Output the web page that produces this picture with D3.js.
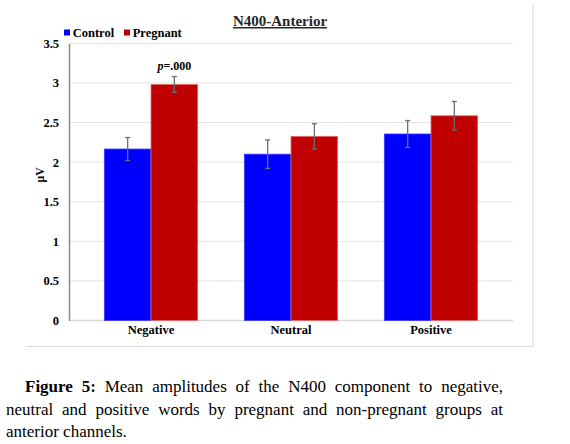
<!DOCTYPE html>
<html>
<head>
<meta charset="utf-8">
<script src="https://cdn.jsdelivr.net/npm/d3@7"></script>
<style>
  html, body { margin: 0; padding: 0; background: #fff; }
  svg { display: block; }
  svg text { font-family: "Liberation Serif", "Times New Roman", Times, serif; }
</style>
</head>
<body>
<svg id="chart" width="570" height="444"></svg>
<script>
// Data
const categories = ['Negative', 'Neutral', 'Positive'];
const groups = ['Control', 'Pregnant'];
const controlMeans = [2.165, 2.10, 2.355];
const pregnantMeans = [2.98, 2.325, 2.585];
const controlErrors = [0.145, 0.18, 0.17];
const pregnantErrors = [0.10, 0.16, 0.18];
const yTicks = [0, 0.5, 1, 1.5, 2, 2.5, 3, 3.5];
const yTickLabels = ['0', '0.5', '1', '1.5', '2', '2.5', '3', '3.5'];
const groupColors = ['#0000ff', '#c00000'];

const captionLines = [
    [{ t: 'Figure 5:', b: true }, { t: 'Mean amplitudes of the N400 component to negative,' }],
    [{ t: 'neutral and positive words by pregnant and non-pregnant groups at' }],
    [{ t: 'anterior channels.' }]
];

const serif = '"Liberation Serif", "Times New Roman", Times, serif';
const svg = d3.select('#chart');

// Plot area
const plot = { left: 69, right: 513, top: 43.3, bottom: 320.5 };

const y = d3.scaleLinear().domain([0, 3.5]).range([plot.bottom, plot.top]);
const x0 = d3.scaleBand().domain(categories).range([81, 501]).paddingInner(1 / 3).paddingOuter(1 / 6);
const x1 = d3.scaleBand().domain(groups).range([0, x0.bandwidth()]);

// Chart frame (right and bottom edges only)
svg.append('path')
    .attr('d', 'M533,5 V346.5 H26')
    .attr('fill', 'none')
    .attr('stroke', '#d9d9d9')
    .attr('stroke-width', 1);

// Gridlines
svg.append('g')
    .selectAll('line')
    .data(yTicks)
    .enter().append('line')
    .attr('x1', plot.left)
    .attr('x2', plot.right)
    .attr('y1', d => y(d))
    .attr('y2', d => y(d))
    .attr('stroke', d => d === 0 ? '#d9d9d9' : '#e3e3e3')
    .attr('stroke-width', d => d === 0 ? 1.5 : 1);

// Y axis
const yAxis = svg.append('g')
    .attr('transform', `translate(${plot.left},0)`)
    .call(d3.axisLeft(y).tickValues(yTicks).tickSize(0).tickPadding(10)
        .tickFormat((d, i) => yTickLabels[i]));
yAxis.attr('font-family', serif);
yAxis.select('.domain').attr('stroke', '#8c8c8c').attr('stroke-width', 1.5);
yAxis.selectAll('text')
    .attr('font-size', 12.5)
    .attr('font-weight', 'bold')
    .attr('fill', '#000');

svg.append('text')
    .attr('transform', 'translate(44,175) rotate(-90)')
    .attr('text-anchor', 'middle')
    .attr('font-family', serif)
    .attr('font-size', 11.5)
    .attr('font-weight', 'bold')
    .text('µV');

// X axis labels
const xAxis = svg.append('g')
    .attr('transform', `translate(0,${plot.bottom})`)
    .call(d3.axisBottom(x0).tickSize(0).tickPadding(5));
xAxis.attr('font-family', serif);
xAxis.select('.domain').remove();
xAxis.selectAll('text')
    .attr('font-size', 12.5)
    .attr('font-weight', 'bold')
    .attr('fill', '#000');

// Bars
const rows = categories.map((c, i) => ({
    category: c,
    values: [
        { group: 'Control', mean: controlMeans[i], err: controlErrors[i] },
        { group: 'Pregnant', mean: pregnantMeans[i], err: pregnantErrors[i] }
    ]
}));

const catG = svg.append('g')
    .selectAll('g')
    .data(rows)
    .enter().append('g')
    .attr('transform', d => `translate(${x0(d.category)},0)`);

catG.selectAll('rect')
    .data(d => d.values)
    .enter().append('rect')
    .attr('x', d => x1(d.group))
    .attr('y', d => y(d.mean))
    .attr('width', x1.bandwidth())
    .attr('height', d => y(0) - y(d.mean))
    .attr('fill', (d, i) => groupColors[i])
    .attr('stroke', (d, i) => i === 0 ? '#3a3aff' : '#e06a6a')
    .attr('stroke-width', 0.8);

// Error bars
const errG = catG.selectAll('g.err')
    .data(d => d.values)
    .enter().append('g')
    .attr('class', 'err')
    .attr('stroke', '#6e6e6e')
    .attr('stroke-width', 1.3);

const cx = d => x1(d.group) + x1.bandwidth() / 2;
errG.append('line')
    .attr('x1', cx).attr('x2', cx)
    .attr('y1', d => y(d.mean + d.err))
    .attr('y2', d => y(d.mean - d.err));
errG.append('line')
    .attr('x1', d => cx(d) - 2.5).attr('x2', d => cx(d) + 2.5)
    .attr('y1', d => y(d.mean + d.err)).attr('y2', d => y(d.mean + d.err));
errG.append('line')
    .attr('x1', d => cx(d) - 2.5).attr('x2', d => cx(d) + 2.5)
    .attr('y1', d => y(d.mean - d.err)).attr('y2', d => y(d.mean - d.err));

// Significance label above Negative / Pregnant
const sig = svg.append('text')
    .attr('x', x0('Negative') + x1('Pregnant') + x1.bandwidth() / 2)
    .attr('y', y(pregnantMeans[0] + pregnantErrors[0]) - 7)
    .attr('text-anchor', 'middle')
    .attr('font-family', serif)
    .attr('font-size', 12)
    .attr('font-weight', 'bold');
sig.append('tspan').attr('font-style', 'italic').text('p');
sig.append('tspan').text('=.000');

// Title
svg.append('text')
    .attr('x', 280)
    .attr('y', 26)
    .attr('text-anchor', 'middle')
    .attr('font-family', serif)
    .attr('font-size', 15)
    .attr('font-weight', 'bold')
    .attr('fill', '#262626')
    .attr('text-decoration', 'underline')
    .text('N400-Anterior');

// Legend
const legend = svg.append('g')
    .selectAll('g')
    .data(groups)
    .enter().append('g')
    .attr('transform', (d, i) => `translate(${[64, 124][i]},0)`);
legend.append('rect')
    .attr('x', 0).attr('y', 29.5)
    .attr('width', 6).attr('height', 6)
    .attr('fill', (d, i) => groupColors[i]);
legend.append('text')
    .attr('x', 8.7).attr('y', 36.5)
    .attr('font-family', serif)
    .attr('font-size', 12.5)
    .attr('font-weight', 'bold')
    .text(d => d);

// Caption (justified lines)
const cap = svg.append('g').attr('fill', '#000');
const capLeft = [25, 6, 6];
const capRight = 503;
const capBase = [392, 414.5, 437];

captionLines.forEach((line, li) => {
    const words = [];
    line.forEach(seg => seg.t.split(' ').forEach(w => words.push({ t: w, b: !!seg.b })));
    const nodes = words.map(w => cap.append('text')
        .attr('y', capBase[li])
        .attr('font-family', serif)
        .attr('font-size', 17)
        .attr('font-weight', w.b ? 'bold' : 'normal')
        .text(w.t));
    const widths = nodes.map(n => n.node().getComputedTextLength());
    const total = d3.sum(widths);
    const justify = li < captionLines.length - 1;
    const gap = justify ? (capRight - capLeft[li] - total) / (words.length - 1) : 17 * 0.25;
    let xpos = capLeft[li];
    nodes.forEach((n, i) => {
        n.attr('x', xpos);
        xpos += widths[i] + gap;
    });
});
</script>
</body>
</html>
